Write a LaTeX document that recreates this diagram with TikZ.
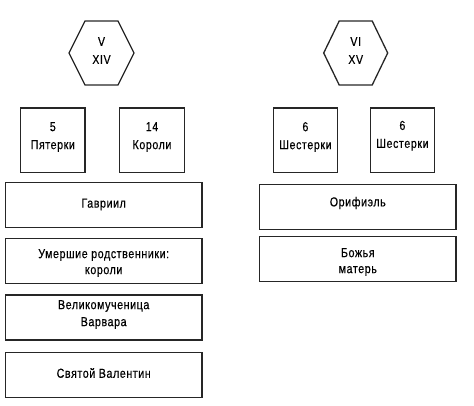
\documentclass[tikz,border=0pt]{standalone}
\usepackage{fontspec}
\setmainfont{Liberation Sans}[FakeStretch=0.82,LetterSpace=4.5,FakeBold=0.4]
\begin{document}
\begin{tikzpicture}[x=1pt,y=-1pt,
  box/.style={draw=black!85,line width=1.3pt,inner sep=0pt},
  sq/.style={box,minimum width=64.5pt,minimum height=64.5pt},
  wide/.style={box,minimum width=196.5pt,minimum height=45pt},
  txt/.style={inner sep=0pt,align=center,font=\fontsize{13}{#1}\selectfont},
  txt/.default=17,
  hexline/.style={draw=black!85,line width=1.3pt,line join=miter}]
\useasboundingbox (0,0) rectangle (474,406);
% hexagons
\coordinate (h1) at (101.5,53);
\coordinate (h2) at (355.7,53);
\draw[hexline] (h1) ++(-32.5,0) -- ++(16,-32) -- ++(33,0) -- ++(16,32) -- ++(-16,32) -- ++(-33,0) -- cycle;
\draw[hexline] (h2) ++(-32,0) -- ++(15.5,-32) -- ++(33,0) -- ++(15.5,32) -- ++(-15.5,32) -- ++(-33,0) -- cycle;
\node[txt=18] (th1) at (101.5,50.5) {V\\XIV};
\node[txt=18] (th2) at (355.7,50.5) {VI\\XV};
% squares
\node[sq] (s1) at (52.8,140.4) {};
\node[sq] (s2) at (152,140.4) {};
\node[sq] (s3) at (305.4,140.4) {};
\node[sq] (s4) at (402.4,140.4) {};
\node[txt=18] (ts1) at (52.8,137) {5\\Пятерки};
\node[txt=18] (ts2) at (152,137) {14\\Короли};
\node[txt=18] (ts3) at (305.4,137) {6\\Шестерки};
\node[txt=18] (ts4) at (402.4,135.7) {6\\Шестерки};
% left column
\node[wide] (l1) at (103.7,205.2) {};
\node[wide] (l2) at (103.7,260.8) {};
\node[wide] (l3) at (103.7,317.5) {};
\node[wide] (l4) at (103.7,374.8) {};
\node[txt] (tl1) at (103.7,204.5) {Гавриил};
\node[txt=16] (tl2) at (103.7,263) {Умершие родственники:\\короли};
\node[txt] (tl3) at (103.7,314.5) {Великомученица\\Варвара};
\node[txt] (tl4) at (103.7,373) {Святой Валентин};
% right column
\node[wide] (r1) at (357.8,206.7) {};
\node[wide] (r2) at (357.8,259.2) {};
\node[txt] (tr1) at (357.8,203) {Орифиэль};
\node[txt=16] (tr2) at (357.8,262) {Божья\\матерь};
\end{tikzpicture}
\end{document}
